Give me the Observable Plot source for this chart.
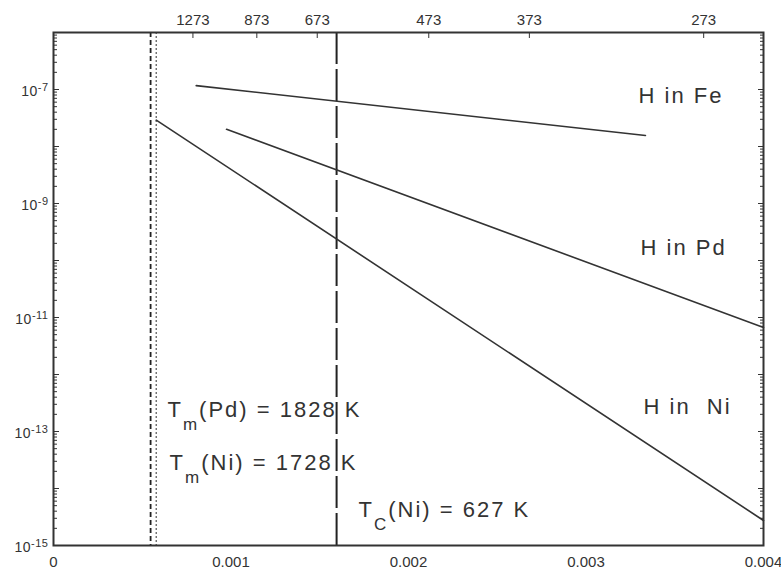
<!DOCTYPE html>
<html><head><meta charset="utf-8">
<script src="https://cdn.jsdelivr.net/npm/d3@7"></script>
<script src="https://cdn.jsdelivr.net/npm/@observablehq/plot@0.6"></script>
<style>body{margin:0;background:#fff;}</style>
</head><body><div id="chart"></div>
<script>
// Arrhenius lines: diffusion coefficient D vs 1/T
const seriesNames = ["H in Fe", "H in Pd", "H in Ni"];
const startInvT = [0.000804, 0.000975, 0.000579];
const startD    = [1.17e-7, 2.0e-8, 2.9e-8];
const endInvT   = [0.003335, 0.004, 0.004];
const endD      = [1.56e-8, 6.7e-12, 2.75e-15];

// reference temperatures (K): Tm(Pd), Tm(Ni), Tc(Ni)
const refTemps = [1828, 1728, 627];

// axes
const topTickTemps = [1273, 873, 673, 473, 373, 273];
const bottomTicks = [0, 0.001, 0.002, 0.003, 0.004];
const leftLabelExps = [-7, -9, -11, -13, -15];
const decadeExps = [-15, -14, -13, -12, -11, -10, -9, -8, -7, -6];

// annotations (data units)
const labelTexts = ["H in Fe", "H in Pd", "H in  Ni", "T_m(Pd) = 1828 K", "T_m(Ni) = 1728 K", "T_C(Ni) = 627 K"];
const labelX = [0.003296, 0.003307, 0.003324, 0.000642, 0.000654, 0.001718];
const labelY = [7.85e-8, 1.66e-10, 2.75e-13, 2.43e-13, 2.86e-14, 4.28e-15];

const lineData = seriesNames.flatMap((name, i) => [
  {name, x: startInvT[i], y: startD[i]},
  {name, x: endInvT[i], y: endD[i]}
]);
const labelData = labelTexts.map((t, i) => ({t, x: labelX[i], y: labelY[i]}));
const decades = decadeExps.map(e => Math.pow(10, e));
const minorTicks = [];
decadeExps.slice(0, -1).forEach(e => { for (let k = 2; k <= 9; k++) minorTicks.push(k * Math.pow(10, e)); });
const leftLabels = leftLabelExps.map(e => Math.pow(10, e));
const ink = "#333";

const chart = Plot.plot({
  width: 781, height: 571,
  marginLeft: 53, marginRight: 18, marginTop: 32, marginBottom: 26,
  style: {fontFamily: "'Liberation Sans', Arial, sans-serif", color: ink, background: "#fff"},
  x: {domain: [0, 0.004]},
  y: {type: "log", domain: [1e-15, 1e-6]},
  marks: [
    Plot.ruleX([1 / refTemps[0]], {stroke: "#222", strokeWidth: 1.8, strokeDasharray: "5,3"}),
    Plot.ruleX([1 / refTemps[1]], {stroke: "#555", strokeWidth: 1.2, strokeDasharray: "2,2"}),
    Plot.ruleX([1 / refTemps[2]], {stroke: "#222", strokeWidth: 2, strokeDasharray: "32,5"}),
    Plot.line(lineData, {x: "x", y: "y", z: "name", stroke: ink, strokeWidth: 1.6}),
    // bottom axis
    Plot.axisX(bottomTicks, {anchor: "bottom", tickSize: 0, tickPadding: 11, fontSize: 15, label: null,
      tickFormat: d => d === 0 ? "0" : d3.format(".3f")(d)}),
    // top axis (temperature)
    Plot.axisX(topTickTemps.map(t => 1 / t), {anchor: "top", tickSize: 5, dy: 5, fill: "none", label: null}),
    Plot.axisX(topTickTemps.map(t => 1 / t), {anchor: "top", tickSize: 0, tickPadding: 8, fontSize: 15, label: null,
      tickFormat: d => String(Math.round(1 / d))}),
    // left / right inward ticks
    Plot.axisY(minorTicks, {anchor: "left", tickSize: 4, dx: 4, fill: "none", label: null}),
    Plot.axisY(decades, {anchor: "left", tickSize: 6, dx: 6, fill: "none", label: null}),
    Plot.axisY(minorTicks, {anchor: "right", tickSize: 4, dx: -4, fill: "none", label: null}),
    Plot.axisY(decades, {anchor: "right", tickSize: 6, dx: -6, fill: "none", label: null}),
    Plot.axisY(leftLabels, {anchor: "left", tickSize: 0, tickPadding: 5, fontSize: 14, dy: 2, label: null,
      tickFormat: v => "10^" + Math.round(Math.log10(v))}),
    Plot.text(labelData, {x: "x", y: "y", text: "t", textAnchor: "start", lineAnchor: "middle", fontSize: 22, fill: ink}),
    Plot.frame({stroke: ink, strokeWidth: 2})
  ]
});

document.getElementById("chart").appendChild(chart);

// annotation spacing and subscripts
d3.select(chart).selectAll('g[aria-label="text"] text')
  .style("letter-spacing", "2px").style("white-space", "pre")
  .each(function () {
    const s = this.textContent;
    const m = s.match(/^([^_]*)_(\w)(.*)$/);
    if (!m) return;
    const sel = d3.select(this);
    this.textContent = "";
    sel.append("tspan").text(m[1]);
    sel.append("tspan").attr("dy", 13).attr("font-size", 17).text(m[2]);
    sel.append("tspan").attr("dy", -13).text(m[3]);
  });

// superscripts on y labels
d3.select(chart).selectAll("text").each(function () {
  const s = this.textContent;
  const m = s.match(/^([^^]*)\^(-?\d+)$/);
  if (!m) return;
  const sel = d3.select(this);
  this.textContent = "";
  sel.style("letter-spacing", "0.5px");
  sel.append("tspan").text(m[1]);
  sel.append("tspan").attr("dy", -5).attr("font-size", 11).text(m[2]);
});
</script>
</body></html>
